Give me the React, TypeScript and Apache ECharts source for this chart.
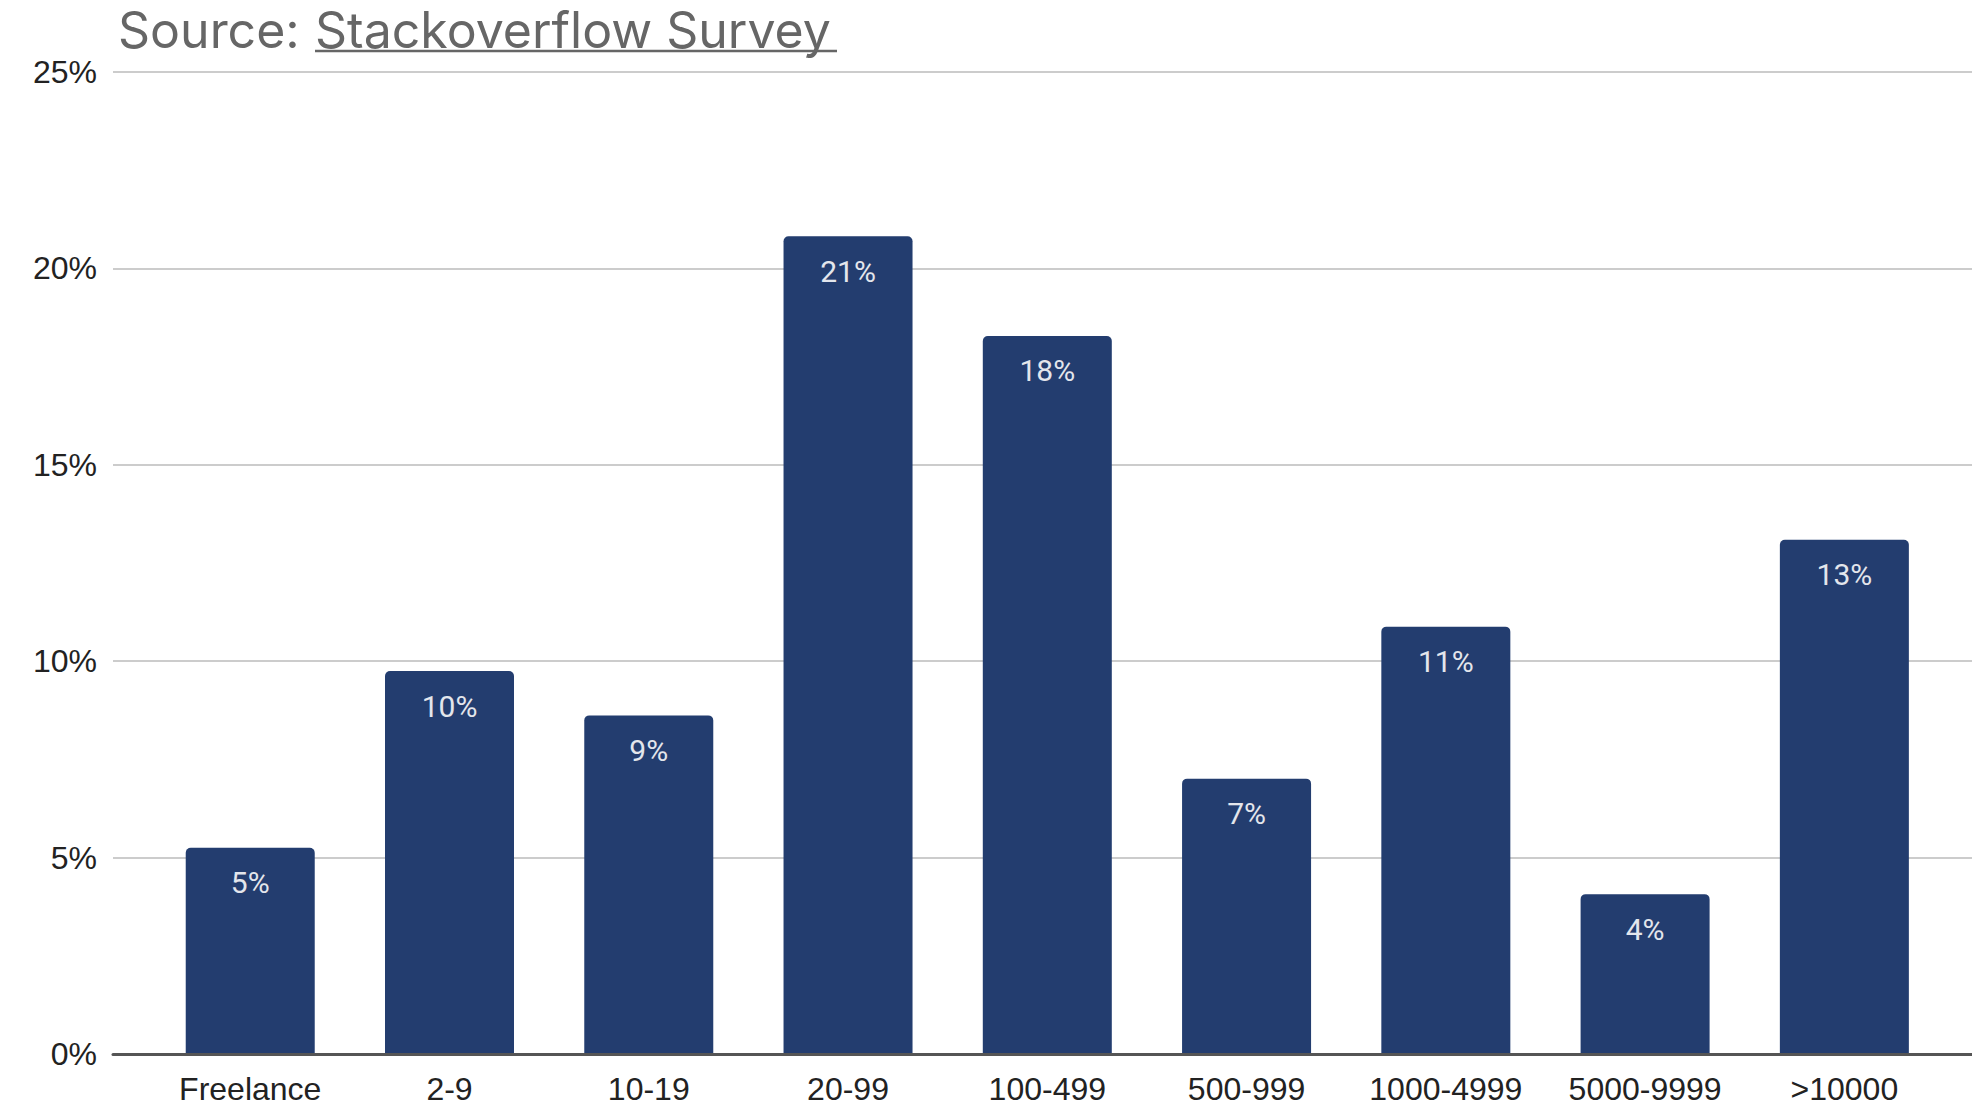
import React, { useEffect, useRef } from "react";
import * as echarts from "echarts";

const categories = ["Freelance", "2-9", "10-19", "20-99", "100-499", "500-999", "1000-4999", "5000-9999", ">10000"];
const shares = [5.25, 9.75, 8.62, 20.82, 18.28, 7.01, 10.88, 4.07, 13.09];
const yTicks = [0, 5, 10, 15, 20, 25];
const titlePrefix = "Source: ";
const titleLink = "Stackoverflow Survey";

export default function App() {
  const ref = useRef<HTMLDivElement>(null);
  useEffect(() => {
    if (!ref.current) return;
    const chart = echarts.init(ref.current, undefined, { renderer: "svg" });
    const yMin = yTicks[0];
    const yMax = yTicks[yTicks.length - 1];
    const yInt = yTicks[1] - yTicks[0];
    chart.setOption({
      animation: false,
      backgroundColor: "#ffffff",
      grid: [
        { left: 113, right: 0, top: 72, bottom: 56 },
        { left: 150.6, right: 28, top: 72, bottom: 56 },
      ],
      xAxis: [
        {
          gridIndex: 0,
          type: "value",
          min: 0,
          max: 1,
          axisLine: { show: true, lineStyle: { color: "#555555", width: 3 } },
          axisTick: { show: false },
          axisLabel: { show: false },
          splitLine: { show: false },
          z: 5,
        },
        {
          gridIndex: 1,
          type: "category",
          data: categories,
          axisLine: { show: false },
          axisTick: { show: false },
          axisLabel: {
            margin: 19,
            fontSize: 32,
            color: "#222222",
            fontFamily: "Liberation Sans",
            interval: 0,
          },
        },
      ],
      yAxis: [
        {
          gridIndex: 0,
          type: "value",
          min: yMin,
          max: yMax,
          interval: yInt,
          axisLine: { show: false },
          axisTick: { show: false },
          axisLabel: {
            margin: 16,
            fontSize: 32,
            color: "#222222",
            fontFamily: "Liberation Sans",
            formatter: (v: number) => `${v}%`,
          },
          splitLine: { show: true, lineStyle: { color: "#cccccc", width: 2 } },
        },
        {
          gridIndex: 1,
          type: "value",
          min: yMin,
          max: yMax,
          interval: yInt,
          show: false,
          splitLine: { show: false },
        },
      ],
      series: [
        {
          type: "bar",
          xAxisIndex: 1,
          yAxisIndex: 1,
          data: shares,
          barWidth: 129,
          itemStyle: { color: "#233d6f", borderRadius: [5, 5, 0, 0] },
          label: {
            show: true,
            position: "insideTop",
            distance: 20,
            fontSize: 30,
            fontFamily: "Roboto",
            color: "#e3e6ec",
            formatter: (p: any) => `${Math.round(p.value)}%`,
          },
          z: 2,
        },
      ],
      graphic: [
        {
          type: "text",
          left: 118,
          top: 5,
          style: {
            text: titlePrefix,
            fontSize: 50,
            fontFamily: "Inter",
            fill: "#666666",
          },
        },
        {
          type: "text",
          left: 315,
          top: 5,
          style: {
            text: titleLink,
            fontSize: 50,
            fontFamily: "Inter",
            fill: "#666666",
          },
        },
        {
          type: "line",
          shape: { x1: 315, y1: 51, x2: 837, y2: 51 },
          style: { stroke: "#666666", lineWidth: 2.5 },
        },
      ],
    });
    return () => chart.dispose();
  }, []);
  return (
    <div
      ref={ref}
      style={{ position: "absolute", left: 0, top: 0, width: 1972, height: 1110 }}
    />
  );
}
